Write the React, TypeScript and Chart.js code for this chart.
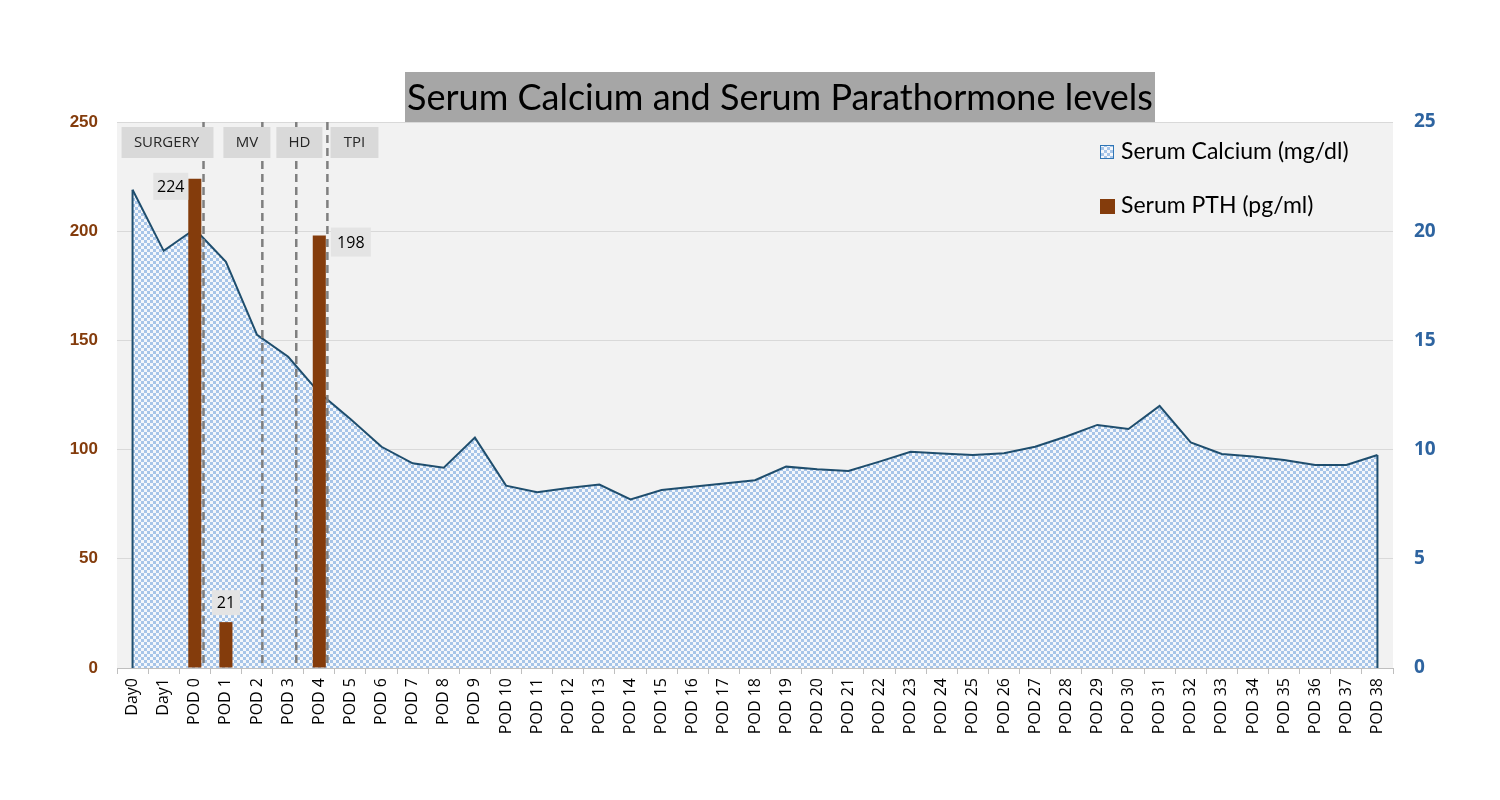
import React, { useEffect, useRef } from "react";
import { Chart, registerables } from "chart.js";

Chart.register(...registerables);

// ---------------- data ----------------
const categories = [
  "Day0", "Day1", "POD 0", "POD 1", "POD 2", "POD 3", "POD 4", "POD 5", "POD 6", "POD 7",
  "POD 8", "POD 9", "POD 10", "POD 11", "POD 12", "POD 13", "POD 14", "POD 15", "POD 16", "POD 17",
  "POD 18", "POD 19", "POD 20", "POD 21", "POD 22", "POD 23", "POD 24", "POD 25", "POD 26", "POD 27",
  "POD 28", "POD 29", "POD 30", "POD 31", "POD 32", "POD 33", "POD 34", "POD 35", "POD 36", "POD 37",
  "POD 38",
];

const serumCalcium = [
  21.9, 19.1, 20.1, 18.6, 15.25, 14.25, 12.6, 11.4, 10.13, 9.37,
  9.17, 10.55, 8.35, 8.05, 8.24, 8.4, 7.72, 8.15, 8.3, 8.45,
  8.6, 9.22, 9.1, 9.02, 9.45, 9.9, 9.82, 9.75, 9.83, 10.13,
  10.6, 11.13, 10.94, 12.0, 10.33, 9.8, 9.68, 9.52, 9.3, 9.3,
  9.75,
];

const serumPTH: (number | null)[] = [
  null, null, 224, 21, null, null, 198, null, null, null,
  null, null, null, null, null, null, null, null, null, null,
  null, null, null, null, null, null, null, null, null, null,
  null, null, null, null, null, null, null, null, null, null,
  null,
];

const leftTicks = [0, 50, 100, 150, 200, 250];
const rightTicks = [0, 5, 10, 15, 20, 25];

const eventLabels = ["SURGERY", "MV", "HD", "TPI"];
const eventAt = [2.28, 4.17, 5.26, 6.26]; // category position of the dashed marker

const titleText = "Serum Calcium and Serum Parathormone levels";
const calciumLabel = "Serum Calcium (mg/dl)";
const pthLabel = "Serum PTH (pg/ml)";

// ---------------- styles ----------------
const BROWN = "#843c0c";
const NAVY = "#1f4e6e";
const BLUE_TICK = "#2e64a0";
const eventBoxSpans: [number, number][] = [
  [-0.353, 2.6],
  [2.92, 4.43],
  [4.62, 6.1],
  [6.36, 7.9],
];
const FONT = "'Open Sans', 'Liberation Sans', sans-serif";
const TFONT = "Lato, 'Open Sans', sans-serif";
const NFONT = "'Liberation Sans', Arial, sans-serif";

function makePattern(): CanvasPattern | string {
  const c = document.createElement("canvas");
  c.width = 6;
  c.height = 6;
  const g = c.getContext("2d");
  if (!g) return "#bcd3ee";
  g.fillStyle = "#f4f7fb";
  g.fillRect(0, 0, 6, 6);
  g.fillStyle = "#a7c5e8";
  g.fillRect(0, 0, 3, 3);
  g.fillRect(3, 3, 3, 3);
  const p = g.createPattern(c, "repeat");
  return p || "#bcd3ee";
}

export default function App() {
  const ref = useRef<HTMLCanvasElement | null>(null);

  useEffect(() => {
    const canvas = ref.current;
    if (!canvas) return;
    const pattern = makePattern();

    const overlay = {
      id: "overlay",
      beforeDraw(chart: any) {
        const { ctx, chartArea: a } = chart;
        ctx.save();
        ctx.fillStyle = "#ffffff";
        ctx.fillRect(0, 0, chart.width, chart.height);
        ctx.fillStyle = "#f2f2f2";
        ctx.fillRect(a.left, a.top, a.right - a.left, a.bottom - a.top);
        // title
        ctx.fillStyle = "#a6a6a6";
        ctx.fillRect(405, 72, 750, 50);
        ctx.fillStyle = "#000";
        ctx.font = `36px ${TFONT}`;
        ctx.textAlign = "center";
        ctx.textBaseline = "middle";
        ctx.fillText(titleText, 780, 98);
        ctx.restore();
      },
      afterDatasetsDraw(chart: any) {
        const { ctx, chartArea: a } = chart;
        const x = chart.scales.x;
        const y = chart.scales.y;
        const y1 = chart.scales.y1;
        ctx.save();
        // area side edges
        const meta = chart.getDatasetMeta(1);
        const pts = meta.data;
        ctx.strokeStyle = NAVY;
        ctx.lineWidth = 2;
        const base = y1.getPixelForValue(0);
        [pts[0], pts[pts.length - 1]].forEach((p: any) => {
          ctx.beginPath();
          ctx.moveTo(p.x, p.y);
          ctx.lineTo(p.x, base);
          ctx.stroke();
        });
        // dashed markers
        ctx.strokeStyle = "#7f7f7f";
        ctx.lineWidth = 2.5;
        ctx.setLineDash([8, 5]);
        eventAt.forEach((v) => {
          const px = x.getPixelForValue(v);
          ctx.beginPath();
          ctx.moveTo(px, a.top);
          ctx.lineTo(px, a.bottom);
          ctx.stroke();
        });
        ctx.setLineDash([]);
        // event boxes
        ctx.font = `15px ${FONT}`;
        ctx.textBaseline = "middle";
        ctx.textAlign = "center";
        eventLabels.forEach((lab, i) => {
          const l = x.getPixelForValue(eventBoxSpans[i][0]);
          const r = x.getPixelForValue(eventBoxSpans[i][1]);
          ctx.fillStyle = "#d9d9d9";
          ctx.fillRect(l, a.top + 5, r - l, 31);
          ctx.fillStyle = "#262626";
          ctx.fillText(lab, (l + r) / 2 + (i === 0 ? -1 : 0), a.top + 21);
        });
        // bar value labels
        ctx.font = `16px ${FONT}`;
        const bmeta = chart.getDatasetMeta(0);
        serumPTH.forEach((v, i) => {
          if (v == null) return;
          const bar: any = bmeta.data[i];
          const top = y.getPixelForValue(v);
          const half = bar.width / 2;
          let bx: number, by: number, bw: number, bh: number;
          const txt = String(v);
          if (i === 2) {
            bw = 35; bh = 27; bx = bar.x - half - bw; by = top - 6;
          } else if (i === 6) {
            bw = 40; bh = 29; bx = bar.x + half + 5; by = top - 8;
          } else {
            bw = 28; bh = 25; bx = bar.x - bw / 2; by = top - 7 - bh;
          }
          ctx.fillStyle = "#e4e4e4";
          ctx.fillRect(bx, by, bw, bh);
          ctx.fillStyle = "#000";
          ctx.fillText(txt, bx + bw / 2, by + bh / 2 + 1);
        });
        // legend
        ctx.textAlign = "left";
        ctx.font = `23px ${TFONT}`;
        ctx.fillStyle = pattern as any;
        ctx.fillRect(1100, 145, 14, 14);
        ctx.strokeStyle = "#2e75b6";
        ctx.lineWidth = 1;
        ctx.strokeRect(1100.5, 145.5, 13, 13);
        ctx.fillStyle = "#000";
        ctx.fillText(calciumLabel, 1121, 152);
        ctx.fillStyle = BROWN;
        ctx.fillRect(1100, 199, 15, 15);
        ctx.fillStyle = "#000";
        ctx.fillText(pthLabel, 1121, 206);
        ctx.restore();
      },
    };

    const chart = new Chart(canvas, {
      type: "bar",
      data: {
        labels: categories,
        datasets: [
          {
            type: "bar",
            label: pthLabel,
            data: serumPTH as any,
            backgroundColor: BROWN,
            yAxisID: "y",
            barPercentage: 0.42,
            categoryPercentage: 1,
            order: 0,
          },
          {
            type: "line",
            label: calciumLabel,
            data: serumCalcium,
            yAxisID: "y1",
            borderColor: NAVY,
            borderWidth: 2,
            backgroundColor: pattern as any,
            fill: "origin",
            pointRadius: 0,
            tension: 0,
            order: 1,
          } as any,
        ],
      },
      options: {
        responsive: false,
        animation: false,
        devicePixelRatio: 1,
        layout: { padding: { top: 122, left: 0, right: 0, bottom: 0 } },
        plugins: {
          legend: { display: false },
          title: { display: false },
          tooltip: { enabled: false },
        },
        scales: {
          x: {
            type: "category",
            offset: true,
            grid: {
              offset: true,
              drawOnChartArea: false,
              drawTicks: true,
              tickLength: 6,
              color: "#bfbfbf",
            },
            border: { color: "#bfbfbf" },
            ticks: {
              autoSkip: false,
              maxRotation: 90,
              minRotation: 90,
              color: "#000",
              padding: 4,
              font: { family: FONT, size: 16 },
            },
            afterFit(scale: any) {
              scale.height = 132;
            },
          },
          y: {
            position: "left",
            min: 0,
            max: 250,
            afterBuildTicks(scale: any) {
              scale.ticks = leftTicks.map((v) => ({ value: v }));
            },
            grid: { color: "#d9d9d9", drawTicks: false, lineWidth: 1 },
            border: { display: false },
            ticks: {
              color: BROWN,
              padding: 19,
              font: { family: NFONT, size: 17, weight: "bold" },
            },
            afterFit(scale: any) {
              scale.width = 117;
            },
          },
          y1: {
            position: "right",
            min: 0,
            max: 25,
            afterBuildTicks(scale: any) {
              scale.ticks = rightTicks.map((v) => ({ value: v }));
            },
            grid: { drawOnChartArea: false, drawTicks: false },
            border: { display: false },
            ticks: {
              color: BLUE_TICK,
              padding: 21,
              font: { family: FONT, size: 19, weight: "bold" },
            },
            afterFit(scale: any) {
              scale.width = 107;
            },
          },
        },
      },
      plugins: [overlay],
    });

    return () => chart.destroy();
  }, []);

  return (
    <div style={{ position: "fixed", left: 0, top: 0, width: 1500, height: 800, background: "#fff" }}>
      <canvas ref={ref} width={1500} height={800} style={{ display: "block", width: 1500, height: 800 }} />
    </div>
  );
}
